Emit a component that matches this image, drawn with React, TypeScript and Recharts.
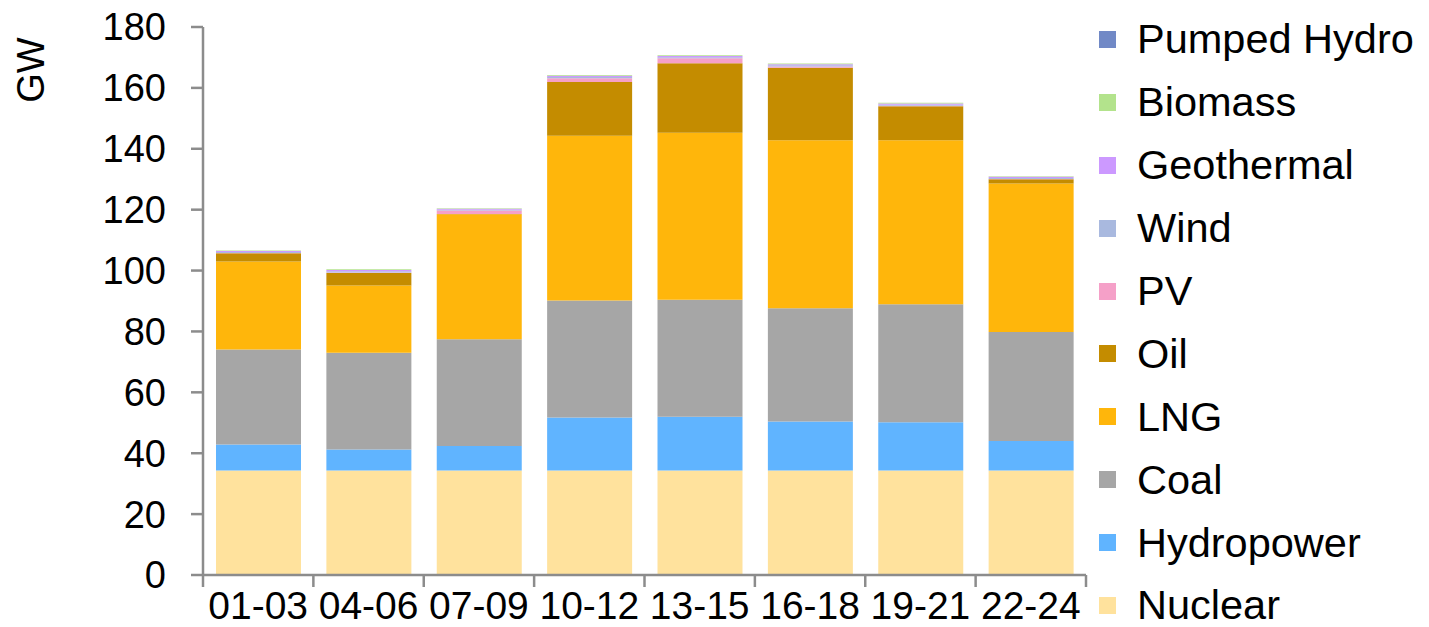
import React from "react";
import { BarChart, Bar, XAxis, YAxis } from "recharts";

// Hourly-block generation mix (GW)
const periods = ["01-03", "04-06", "07-09", "10-12", "13-15", "16-18", "19-21", "22-24"];

const nuclear = [34.3, 34.3, 34.3, 34.3, 34.3, 34.3, 34.3, 34.3];
const hydropower = [8.6, 6.9, 8.1, 17.4, 17.7, 16.1, 15.9, 9.7];
const coal = [31.2, 31.8, 35.0, 38.5, 38.4, 37.2, 38.7, 35.8];
const lng = [28.9, 22.1, 41.1, 54.1, 54.9, 55.2, 53.9, 48.8];
const oil = [2.7, 4.1, 0.1, 17.6, 22.8, 23.8, 11.2, 1.4];
const pv = [0.1, 0.2, 1.1, 1.3, 1.6, 0.4, 0.1, 0.1];
const wind = [0.3, 0.4, 0.3, 0.4, 0.4, 0.4, 0.4, 0.3];
const geothermal = [0.3, 0.4, 0.3, 0.4, 0.4, 0.4, 0.4, 0.4];
const biomass = [0.2, 0.2, 0.2, 0.2, 0.2, 0.2, 0.2, 0.2];
const pumpedHydro = [0, 0, 0, 0, 0, 0, 0, 0];

const yTicks = [0, 20, 40, 60, 80, 100, 120, 140, 160, 180];

// bottom to top stacking order
const series = [
  { key: "Nuclear", values: nuclear, color: "#FFE29D" },
  { key: "Hydropower", values: hydropower, color: "#60B4FF" },
  { key: "Coal", values: coal, color: "#A6A6A6" },
  { key: "LNG", values: lng, color: "#FFB60B" },
  { key: "Oil", values: oil, color: "#C48C00" },
  { key: "PV", values: pv, color: "#F5A0C8" },
  { key: "Wind", values: wind, color: "#A9B9DF" },
  { key: "Geothermal", values: geothermal, color: "#CC99FF" },
  { key: "Biomass", values: biomass, color: "#B3E38C" },
  { key: "Pumped Hydro", values: pumpedHydro, color: "#7189C6" },
];

const data = periods.map((name, i) => {
  const row: Record<string, string | number> = { name };
  series.forEach((s) => {
    row[s.key] = s.values[i];
  });
  return row;
});

const FONT = "'Liberation Sans', Arial, sans-serif";
const AXIS_COLOR = "#8C8C8C";

// the chart is pulled up over the body margin so the top tick label has room
const CHART_W = 1413;
const CHART_H = 627;
const MARGIN = { top: 27, right: 335, bottom: 8, left: 0 };
const Y_AXIS_W = 195;
const BAND = (CHART_W - MARGIN.left - MARGIN.right - Y_AXIS_W) / periods.length;

// category label plus tick marks on the category boundaries
const PeriodTick = (props: any) => {
  const { x, y, payload, index } = props;
  const half = BAND / 2;
  return (
    <g>
      <line
        x1={x - half}
        x2={x - half}
        y1={y - 4}
        y2={y + 8}
        stroke={AXIS_COLOR}
        strokeWidth={2.5}
      />
      {index === periods.length - 1 && (
        <line
          x1={x + half}
          x2={x + half}
          y1={y - 4}
          y2={y + 8}
          stroke={AXIS_COLOR}
          strokeWidth={2.5}
        />
      )}
      <text
        x={x}
        y={y + 26}
        textAnchor="middle"
        dominantBaseline="central"
        fontSize={39}
        fontFamily={FONT}
        fill="#000"
      >
        {payload.value}
      </text>
    </g>
  );
};

const ChartLegend = () => (
  <div
    style={{
      position: "absolute",
      left: 1091,
      top: 8,
      fontFamily: FONT,
      fontSize: 41.5,
      color: "#000",
    }}
  >
    {[...series].reverse().map((s) => (
      <div
        key={s.key}
        style={{ display: "flex", alignItems: "center", height: 62.9 }}
      >
        <span
          style={{
            display: "inline-block",
            width: 17,
            height: 17,
            background: s.color,
            marginRight: 21,
          }}
        />
        <span style={{ whiteSpace: "nowrap" }}>{s.key}</span>
      </div>
    ))}
  </div>
);

export default function App() {
  return (
    <div
      style={{
        position: "relative",
        width: CHART_W,
        height: CHART_H,
        marginTop: -8,
      }}
    >
      <BarChart
        width={CHART_W}
        height={CHART_H}
        data={data}
        margin={MARGIN}
        barSize={85}
      >
        <XAxis
          dataKey="name"
          height={44}
          axisLine={{ stroke: AXIS_COLOR, strokeWidth: 2.5 }}
          tickLine={false}
          tickSize={4}
          tickMargin={0}
          interval={0}
          tick={<PeriodTick />}
        />
        <YAxis
          width={Y_AXIS_W}
          domain={[0, 180]}
          ticks={yTicks}
          interval={0}
          tickSize={12}
          tickMargin={25}
          axisLine={{ stroke: AXIS_COLOR, strokeWidth: 2.5 }}
          tickLine={{ stroke: AXIS_COLOR, strokeWidth: 2.5 }}
          tick={{ fill: "#000", fontSize: 38, fontFamily: FONT }}
          label={{
            content: () => (
              <text
                x={23}
                y={70}
                transform="rotate(-90 23 70)"
                textAnchor="middle"
                dominantBaseline="central"
                fontSize={38}
                fontFamily={FONT}
                fill="#000"
              >
                GW
              </text>
            ),
          }}
        />
        {series.map((s) => (
          <Bar
            key={s.key}
            dataKey={s.key}
            stackId="mix"
            fill={s.color}
            isAnimationActive={false}
          />
        ))}
      </BarChart>
      <ChartLegend />
    </div>
  );
}
